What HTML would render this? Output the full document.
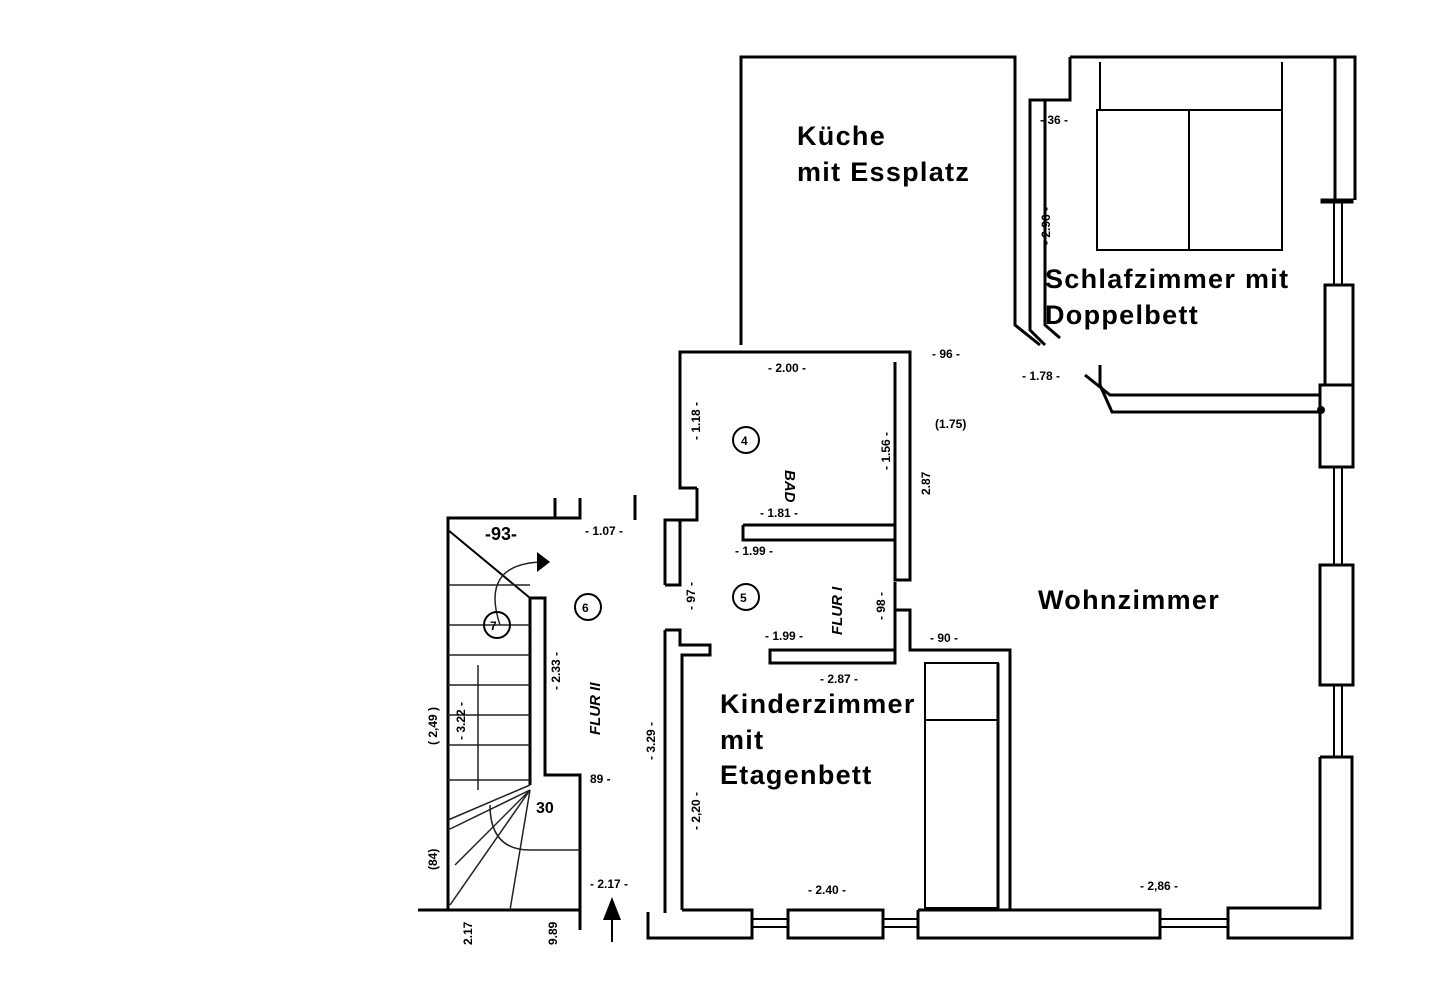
<!DOCTYPE html>
<html><head><meta charset="utf-8"><style>
html,body{margin:0;padding:0;background:#fff;}
svg{display:block;}
.w{fill:none;stroke:#000;stroke-width:3;stroke-linejoin:miter}
.t{stroke:#000;stroke-width:2;fill:none}
.f{stroke:#222;stroke-width:1.5;fill:none}
.lab{font-family:"Liberation Sans",sans-serif;font-weight:bold;font-size:27px;letter-spacing:1.3px;fill:#000}
.dim{font-family:"Liberation Sans",sans-serif;font-size:12px;fill:#000;font-weight:bold}
</style></head><body>
<svg width="1440" height="991" viewBox="0 0 1440 991" xmlns="http://www.w3.org/2000/svg">
<rect width="1440" height="991" fill="#fff"/>
<polyline class="w" points="741,345 741,57 1015,57 1015,325 1040,345"/>
<polyline class="w" points="1070,57 1070,100 1030,100 1030,330 1045,345"/>
<polyline class="w" points="1045,100 1045,325 1060,338"/>
<polyline class="w" points="1070,57 1355,57 1355,200"/>
<line class="w" x1="1335" y1="57" x2="1335" y2="200"/>
<rect class="w" x="1322" y="200" width="30" height="2"/>
<line class="t" x1="1334" y1="200" x2="1334" y2="285"/><line class="t" x1="1342" y1="200" x2="1342" y2="285"/>
<rect class="w" x="1325" y="285" width="28" height="100"/>
<rect class="w" x="1320" y="385" width="33" height="82"/>
<line class="t" x1="1334" y1="467" x2="1334" y2="565"/><line class="t" x1="1342" y1="467" x2="1342" y2="565"/>
<rect class="w" x="1320" y="565" width="33" height="120"/>
<line class="t" x1="1334" y1="685" x2="1334" y2="757"/><line class="t" x1="1342" y1="685" x2="1342" y2="757"/>
<polyline class="w" points="1320,757 1352,757 1352,938 1228,938 1228,908 1320,908 1320,757"/>
<polyline class="w" points="1085,375 1110,395 1320,395"/>
<polyline class="w" points="1100,365 1100,385 1112,412 1320,412"/>
<circle cx="1321" cy="410" r="4" fill="#000"/>
<rect class="t" x="1097" y="110" width="185" height="140"/>
<line class="t" x1="1189" y1="110" x2="1189" y2="250"/>
<path class="t" d="M1100,62 V110 M1282,62 V110"/>
<polyline class="w" points="680,470 680,352 910,352 910,580 895,580 895,362"/>
<polyline class="w" points="680,470 680,488 697,488"/>
<path class="w" d="M743,525 H895 M743,525 V540 H895"/>
<path class="w" d="M635,520 V495 M665,585 V520 H697 V488 M680,520 V585 H665"/>
<polyline class="w" points="895,582 895,610 910,610 910,650 1010,650 1010,910"/>
<polyline class="w" points="895,610 895,663 770,663 770,650 895,650"/>
<path class="w" d="M665,630 V913 M665,630 H680 V645 H710 V655 H682 V910"/>
<line class="w" x1="998" y1="663" x2="998" y2="910"/>
<rect class="t" x="925" y="663" width="73" height="245"/>
<line class="t" x1="925" y1="720" x2="998" y2="720"/>
<polyline class="w" points="648,912 648,938 752,938 752,910 682,910"/>
<line class="t" x1="752" y1="919" x2="788" y2="919"/><line class="t" x1="752" y1="927" x2="788" y2="927"/>
<rect class="w" x="788" y="910" width="95" height="28"/>
<line class="t" x1="883" y1="919" x2="918" y2="919"/><line class="t" x1="883" y1="927" x2="918" y2="927"/>
<polyline class="w" points="918,910 918,938 1160,938 1160,910 918,910"/>
<line class="t" x1="1160" y1="919" x2="1228" y2="919"/><line class="t" x1="1160" y1="927" x2="1228" y2="927"/>
<path class="w" d="M448,910 V518 H555 V498 M580,498 V518 H555"/>
<polyline class="w" points="418,910 580,910 580,930"/>
<path class="w" d="M530,598 H545 V775 H580 V910 M530,598 V785"/>
<line class="t" x1="448" y1="530" x2="530" y2="598"/>
<g class="f">
<line x1="448" y1="585" x2="530" y2="585"/><line x1="448" y1="625" x2="530" y2="625"/>
<line x1="448" y1="655" x2="530" y2="655"/><line x1="448" y1="685" x2="530" y2="685"/>
<line x1="448" y1="715" x2="530" y2="715"/><line x1="448" y1="745" x2="530" y2="745"/>
<line x1="448" y1="780" x2="530" y2="780"/><line x1="478" y1="665" x2="478" y2="790"/>
<line x1="448" y1="820" x2="530" y2="785"/><line x1="448" y1="830" x2="530" y2="790"/>
<line x1="455" y1="865" x2="530" y2="790"/><line x1="450" y1="905" x2="530" y2="790"/>
<line x1="510" y1="910" x2="530" y2="790"/>
<path d="M500,625 Q480,565 540,562"/><path d="M490,805 Q490,850 530,850 L580,850"/>
</g>
<polygon points="537,552 550,562 537,572" fill="#000"/>
<polygon points="603,920 612,897 621,920" fill="#000"/><line class="t" x1="612" y1="920" x2="612" y2="942"/>
<g class="t"><circle cx="497" cy="625" r="13"/><circle cx="588" cy="607" r="13"/><circle cx="746" cy="597" r="13"/><circle cx="746" cy="440" r="13"/></g>
<g class="dim">
<text x="490" y="630">7</text><text x="582" y="612">6</text><text x="740" y="602">5</text><text x="741" y="445">4</text>
<text x="768" y="372">- 2.00 -</text><text x="760" y="517">- 1.81 -</text><text x="735" y="555">- 1.99 -</text>
<text x="585" y="535">- 1.07 -</text><text x="932" y="358">- 96 -</text><text x="930" y="642">- 90 -</text>
<text x="820" y="683">- 2.87 -</text><text x="808" y="894">- 2.40 -</text><text x="1140" y="890">- 2,86 -</text>
<text x="590" y="888">- 2.17 -</text><text x="765" y="640">- 1.99 -</text><text x="1040" y="124">- 36 -</text>
<text x="935" y="428">(1.75)</text><text x="1022" y="380">- 1.78 -</text><text x="485" y="540" font-size="18">-93-</text>
<text x="536" y="813" font-size="16">30</text><text x="590" y="783">89 -</text>
</g>
<g class="dim" font-size="12">
<text transform="translate(1050,245) rotate(-90)">- 2.96 -</text>
<text transform="translate(700,440) rotate(-90)">- 1.18 -</text>
<text transform="translate(890,470) rotate(-90)">- 1.56 -</text>
<text transform="translate(930,495) rotate(-90)">2.87</text>
<text transform="translate(560,690) rotate(-90)">- 2.33 -</text>
<text transform="translate(655,760) rotate(-90)">- 3.29 -</text>
<text transform="translate(700,830) rotate(-90)">- 2,20 -</text>
<text transform="translate(465,740) rotate(-90)">- 3.22 -</text>
<text transform="translate(437,745) rotate(-90)">( 2,49 )</text>
<text transform="translate(437,870) rotate(-90)">(84)</text>
<text transform="translate(695,610) rotate(-90)">- 97 -</text>
<text transform="translate(885,620) rotate(-90)">- 98 -</text>
<text transform="translate(600,735) rotate(-90)" font-style="italic" font-size="15">FLUR II</text>
<text transform="translate(842,635) rotate(-90)" font-style="italic" font-size="15">FLUR I</text>
<text transform="translate(785,470) rotate(90)" font-style="italic" font-size="15">BAD</text>
<text transform="translate(472,945) rotate(-90)">2.17</text>
<text transform="translate(557,945) rotate(-90)">9.89</text>
</g>
<text class="lab" x="797" y="145">Küche</text>
<text class="lab" x="797" y="181">mit Essplatz</text>
<text class="lab" x="1045" y="288">Schlafzimmer mit</text>
<text class="lab" x="1045" y="324">Doppelbett</text>
<text class="lab" x="1038" y="609">Wohnzimmer</text>
<text class="lab" x="720" y="713">Kinderzimmer</text>
<text class="lab" x="720" y="749">mit</text>
<text class="lab" x="720" y="784">Etagenbett</text>
</svg>
</body></html>
